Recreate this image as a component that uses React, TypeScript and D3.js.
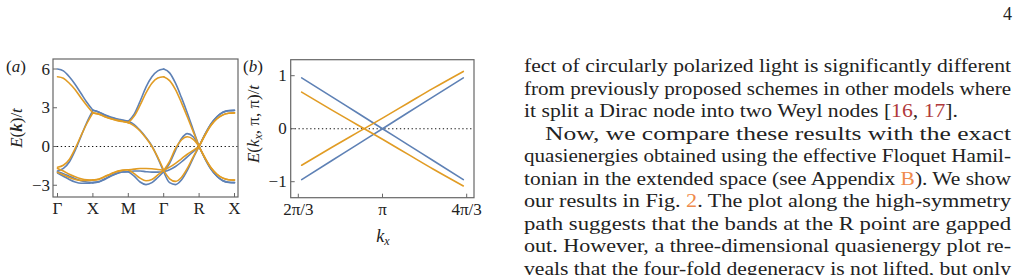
import * as d3 from 'd3'

// Panel (a): high-symmetry path Γ–X–M–Γ–R–X, band energies E/t per segment
// (7 samples per segment)
const pathLabels = ['Γ', 'X', 'M', 'Γ', 'R', 'X']
const yTicksA = [6, 3, 0, -3]

const blueGX = [
  [6.0, 5.85, 5.4, 4.8, 4.1, 3.4, 2.8],
  [-1.9, -1.7, -1.2, -0.3, 0.8, 1.9, 2.8],
  [-1.95, -2.1, -2.3, -2.5, -2.65, -2.75, -2.8],
  [-2.05, -2.3, -2.55, -2.75, -2.85, -2.85, -2.8],
]
const orangeGX = [
  [5.4, 5.28, 4.9, 4.4, 3.75, 3.15, 2.6],
  [-1.6, -1.45, -1.0, -0.15, 0.85, 1.8, 2.6],
  [-1.7, -1.9, -2.15, -2.35, -2.5, -2.58, -2.6],
  [-2.0, -2.2, -2.4, -2.55, -2.62, -2.62, -2.6],
]
const blueXM = [
  [2.8, 2.68, 2.45, 2.28, 2.15, 2.05, 1.95],
  [2.8, 2.65, 2.42, 2.25, 2.12, 2.02, 1.95],
  [-2.8, -2.75, -2.55, -2.3, -2.1, -1.98, -1.95],
  [-2.8, -2.72, -2.5, -2.27, -2.08, -1.97, -1.95],
]
const orangeXM = [
  [2.6, 2.52, 2.33, 2.17, 2.05, 1.95, 1.85],
  [2.6, 2.5, 2.3, 2.14, 2.02, 1.93, 1.85],
  [-2.6, -2.55, -2.35, -2.15, -1.95, -1.85, -1.8],
  [-2.6, -2.52, -2.32, -2.12, -1.93, -1.84, -1.8],
]
const blueMG = [
  [1.95, 2.5, 3.5, 4.6, 5.4, 5.85, 6.0],
  [1.95, 1.7, 1.25, 0.7, 0.05, -0.9, -1.95],
  [-1.95, -1.9, -1.9, -1.95, -1.98, -1.98, -1.95],
  [-1.95, -2.3, -2.75, -2.95, -2.8, -2.4, -1.95],
]
const orangeMG = [
  [1.85, 2.35, 3.2, 4.15, 4.9, 5.3, 5.4],
  [1.85, 1.6, 1.2, 0.65, 0.0, -0.85, -1.85],
  [-1.8, -1.75, -1.7, -1.7, -1.72, -1.78, -1.85],
  [-1.8, -2.1, -2.45, -2.65, -2.55, -2.2, -1.85],
]
const blueGR = [
  [6.0, 5.7, 4.9, 3.8, 2.6, 1.3, 0.0],
  [-1.95, -1.3, -0.3, 0.6, 1.0, 0.75, 0.0],
  [-1.95, -1.8, -1.55, -1.2, -0.8, -0.4, 0.0],
  [-1.95, -2.8, -2.95, -2.6, -1.85, -0.9, 0.0],
]
const orangeGR = [
  [5.4, 5.1, 4.4, 3.4, 2.3, 1.15, 0.0],
  [-1.85, -1.15, -0.15, 0.5, 0.75, 0.55, 0.0],
  [-1.85, -1.6, -1.3, -0.95, -0.6, -0.3, 0.0],
  [-1.85, -2.5, -2.7, -2.4, -1.7, -0.8, 0.0],
]
const blueRX = [
  [0.0, 0.95, 1.75, 2.3, 2.65, 2.78, 2.8],
  [0.0, 0.92, 1.72, 2.28, 2.63, 2.77, 2.8],
  [0.0, -0.95, -1.75, -2.3, -2.65, -2.78, -2.8],
  [0.0, -0.92, -1.72, -2.28, -2.63, -2.77, -2.8],
]
const orangeRX = [
  [0.0, 0.9, 1.65, 2.15, 2.45, 2.58, 2.6],
  [0.0, 0.87, 1.62, 2.13, 2.43, 2.57, 2.6],
  [0.0, -0.9, -1.65, -2.15, -2.45, -2.58, -2.6],
  [0.0, -0.87, -1.62, -2.13, -2.43, -2.57, -2.6],
]

// Panel (b): E(kx, π, π)/t, kx in units of π
const kB = [0.68, 0.8, 0.9, 1.0, 1.1, 1.2, 1.32]
const blueB = [
  [0.96, 0.6, 0.3, 0.0, -0.3, -0.6, -0.96],
  [-0.96, -0.6, -0.3, 0.0, 0.3, 0.6, 0.96],
]
const orangeB = [
  [0.69, 0.35, 0.075, -0.2, -0.48, -0.76, -1.08],
  [-0.69, -0.35, -0.075, 0.2, 0.48, 0.76, 1.08],
]
const xTicksB = [2 / 3, 1, 4 / 3]
const xTickLabelsB = ['2π/3', 'π', '4π/3']
const yTicksB = [1, 0, -1]

const BLUE = '#5e81b5'
const ORANGE = '#e19c24'
const FRAME = '#666'
const INK = '#222'
const CITE = '#b0393b'
const REF = '#ef8a4c'
const SERIF = 'Liberation Serif'

type Part = [string, string | null]
const bodyLines: { x: number; w: number; parts: Part[] }[] = [
  { x: 524, w: 487, parts: [['fect of circularly polarized light is significantly different', null]] },
  { x: 524, w: 487, parts: [['from previously proposed schemes in other models where', null]] },
  { x: 524, w: 434, parts: [['it split a Dirac node into two Weyl nodes [', null], ['16', CITE], [', ', null], ['17', CITE], ['].', null]] },
  { x: 545, w: 466, parts: [['Now, we compare these results with the exact', null]] },
  { x: 524, w: 487, parts: [['quasienergies obtained using the effective Floquet Hamil-', null]] },
  { x: 524, w: 487, parts: [['tonian in the extended space (see Appendix ', null], ['B', REF], ['). We show', null]] },
  { x: 524, w: 487, parts: [['our results in Fig. ', null], ['2', REF], ['. The plot along the high-symmetry', null]] },
  { x: 524, w: 487, parts: [['path suggests that the bands at the R point are gapped', null]] },
  { x: 524, w: 487, parts: [['out. However, a three-dimensional quasienergy plot re-', null]] },
  { x: 524, w: 487, parts: [['veals that the four-fold degeneracy is not lifted, but only', null]] },
]

export default function App() {
  // panel (a) geometry
  const fa = { x0: 53, x1: 238, y0: 59, y1: 197 }
  const xA = d3.scaleLinear().domain([0, 5]).range([57.5, 234.5])
  const yA = d3.scaleLinear().domain([6, -3]).range([69, 185.25])
  // panel (b) geometry
  const fb = { x0: 290.7, x1: 474, y0: 59.7, y1: 197.7 }
  const xB = d3.scaleLinear().domain([2 / 3, 4 / 3]).range([298.3, 466.7])
  const yB = d3.scaleLinear().domain([1, -1]).range([75.7, 181.7])

  const segLine = (seg: number) =>
    d3.line<number>()
      .x((_, i) => xA(seg + i / 6))
      .y((d) => yA(d))
      .curve(d3.curveMonotoneX)

  const segments = [
    [blueGX, orangeGX],
    [blueXM, orangeXM],
    [blueMG, orangeMG],
    [blueGR, orangeGR],
    [blueRX, orangeRX],
  ]

  const lineB = d3.line<number>()
    .x((_, i) => xB(kB[i]))
    .y((d) => yB(d))
    .curve(d3.curveMonotoneX)

  const lw = 1.6

  return (
    <svg
      width={1020}
      height={275}
      fontFamily={SERIF}
      style={{ position: 'fixed', left: 0, top: 0, background: '#fff' }}
    >
      <rect width={1020} height={275} fill="#fff" />

      {/* ---- panel (a) ---- */}
      <text x={6} y={72} fontSize={17} fontStyle="italic" fill={INK}>
        <tspan fontStyle="normal">(</tspan>a<tspan fontStyle="normal">)</tspan>
      </text>
      <text transform="translate(22,128) rotate(-90)" textAnchor="middle" fontSize={17} fill={INK}>
        <tspan fontStyle="italic">E</tspan>(<tspan fontWeight="bold" fontStyle="italic">k</tspan>)/<tspan fontStyle="italic">t</tspan>
      </text>
      <line x1={fa.x0} x2={fa.x1} y1={yA(0)} y2={yA(0)} stroke="#111" strokeWidth={1.1} strokeDasharray="1.3 2.6" />
      {[0, 1].map((c) =>
        segments.map((pair, s) =>
          pair[c].map((band, b) => (
            <path
              key={`a-${c}-${s}-${b}`}
              d={segLine(s)(band) ?? ''}
              fill="none"
              stroke={c === 0 ? BLUE : ORANGE}
              strokeWidth={lw}
              strokeLinejoin="round"
              strokeLinecap="round"
            />
          ))
        )
      )}
      <rect x={fa.x0} y={fa.y0} width={fa.x1 - fa.x0} height={fa.y1 - fa.y0} fill="none" stroke={FRAME} strokeWidth={1.2} />
      {yTicksA.map((t) => (
        <g key={`ya-${t}`}>
          <line x1={fa.x0} x2={fa.x0 + 4} y1={yA(t)} y2={yA(t)} stroke={FRAME} />
          <text x={fa.x0 - 3} y={yA(t) + 5.5} textAnchor="end" fontSize={17} fill={INK}>
            {t < 0 ? `−${-t}` : t}
          </text>
        </g>
      ))}
      {pathLabels.map((lab, i) => (
        <g key={`xa-${i}`}>
          <line x1={xA(i)} x2={xA(i)} y1={fa.y1} y2={fa.y1 - 4} stroke={FRAME} />
          <text x={xA(i)} y={214} textAnchor="middle" fontSize={17} fill={INK}>
            {lab}
          </text>
        </g>
      ))}

      {/* ---- panel (b) ---- */}
      <text x={243} y={72} fontSize={17} fontStyle="italic" fill={INK}>
        <tspan fontStyle="normal">(</tspan>b<tspan fontStyle="normal">)</tspan>
      </text>
      <text transform="translate(259,124) rotate(-90)" textAnchor="middle" fontSize={17} fill={INK}>
        <tspan fontStyle="italic">E</tspan>(<tspan fontStyle="italic">k</tspan>
        <tspan fontStyle="italic" fontSize={12} dy={3}>x</tspan>
        <tspan dy={-3}>, π, π)/</tspan><tspan fontStyle="italic">t</tspan>
      </text>
      <line x1={fb.x0} x2={fb.x1} y1={yB(0)} y2={yB(0)} stroke="#111" strokeWidth={1.1} strokeDasharray="1.3 2.6" />
      {blueB.map((band, i) => (
        <path key={`bb-${i}`} d={lineB(band) ?? ''} fill="none" stroke={BLUE} strokeWidth={lw} strokeLinecap="round" />
      ))}
      {orangeB.map((band, i) => (
        <path key={`bo-${i}`} d={lineB(band) ?? ''} fill="none" stroke={ORANGE} strokeWidth={lw} strokeLinecap="round" />
      ))}
      <rect x={fb.x0} y={fb.y0} width={fb.x1 - fb.x0} height={fb.y1 - fb.y0} fill="none" stroke={FRAME} strokeWidth={1.2} />
      {yTicksB.map((t) => (
        <g key={`yb-${t}`}>
          <line x1={fb.x0} x2={fb.x0 + 4} y1={yB(t)} y2={yB(t)} stroke={FRAME} />
          <text x={fb.x0 - 4} y={yB(t) + 5.5} textAnchor="end" fontSize={17} fill={INK}>
            {t < 0 ? `−${-t}` : t}
          </text>
        </g>
      ))}
      {xTicksB.map((t, i) => (
        <g key={`xb-${i}`}>
          <line x1={xB(t)} x2={xB(t)} y1={fb.y1} y2={fb.y1 - 4} stroke={FRAME} />
          <text x={xB(t)} y={215} textAnchor="middle" fontSize={17} fill={INK}>
            {xTickLabelsB[i]}
          </text>
        </g>
      ))}
      <text x={383} y={242} textAnchor="middle" fontSize={18} fill={INK}>
        <tspan fontStyle="italic">k</tspan>
        <tspan fontStyle="italic" fontSize={12} dy={3}>x</tspan>
      </text>

      {/* ---- page text ---- */}
      <text x={1012} y={20} textAnchor="end" fontSize={18} fill={INK}>4</text>
      {bodyLines.map((ln, i) => (
        <text
          key={`l-${i}`}
          x={ln.x}
          y={72.3 + i * 22.5}
          fontSize={18}
          fill={INK}
          textLength={ln.w}
          lengthAdjust="spacingAndGlyphs"
        >
          {ln.parts.map(([s, col], j) => (
            <tspan key={j} fill={col ?? INK}>{s}</tspan>
          ))}
        </text>
      ))}
    </svg>
  )
}
